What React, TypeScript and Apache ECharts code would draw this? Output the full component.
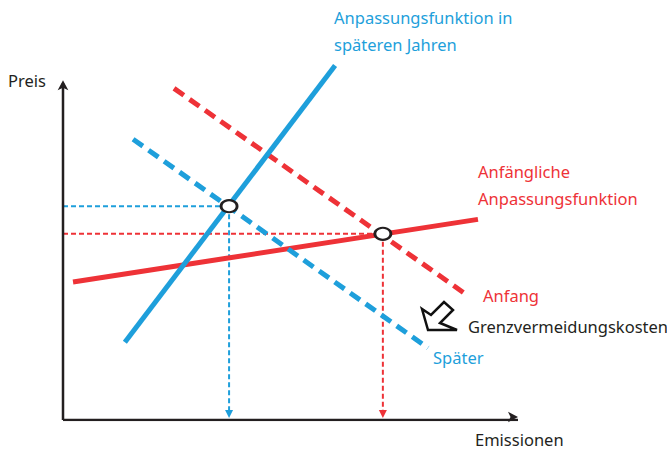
import React, { useEffect, useRef } from "react";
import * as echarts from "echarts";

// Conceptual diagram data (x: Emissionen 0..100, y: Preis 0..100)
const blueSolid = [[13.6, 23.1], [59.8, 105.3]]; // Anpassungsfunktion in späteren Jahren
const redSolid = [[2.2, 41.0], [91.2, 59.6]]; // Anfängliche Anpassungsfunktion
const redDashed = [[24.4, 98.5], [88.8, 37.1]]; // Grenzvermeidungskosten Anfang
const blueDashed = [[15.4, 83.4], [80.2, 21.4]]; // Grenzvermeidungskosten Später
const eqLater = [36.5, 63.5];
const eqInitial = [70.3, 55.3];
const xAxisLine = [[0, 0], [100, 0]];
const yAxisLine = [[0, 0], [0, 100]];

const BLUE = "#1E9FDB";
const RED = "#EE3237";
const DARK = "#231F20";
const FONT = "'Noto Sans'";
const FS = "16.5px";

export default function App() {
  const ref = useRef<HTMLDivElement>(null);
  useEffect(() => {
    const chart = echarts.init(ref.current!, null, { renderer: "svg" });
    const guide = (color: string, pt: number[]) => [
      {
        type: "line",
        data: [[0, pt[1]], [pt[0], pt[1]]],
        showSymbol: false,
        symbol: "none",
        lineStyle: { color, width: 2, type: [5, 3] },
        z: 1,
      },
      {
        type: "line",
        data: [
          { value: [pt[0], pt[1]], symbol: "none" },
          { value: [pt[0], 1.8], symbol: "triangle", symbolSize: [8, 8], symbolRotate: 180 },
        ],
        showAllSymbol: true,
        itemStyle: { color },
        lineStyle: { color, width: 2, type: [5, 3] },
        z: 1,
      },
    ];
    chart.setOption({
      animation: false,
      grid: { left: 63, right: 149, top: 16, bottom: 30 },
      xAxis: { type: "value", min: 0, max: 100, show: false },
      yAxis: { type: "value", min: 0, max: 120, show: false },
      series: [
        ...guide(BLUE, eqLater),
        ...guide(RED, eqInitial),
        {
          type: "line",
          data: [
            { value: yAxisLine[0], symbol: "none" },
            { value: yAxisLine[1], symbol: "arrow", symbolSize: [8, 10], symbolOffset: [0, -3] },
          ],
          showAllSymbol: true,
          itemStyle: { color: DARK },
          lineStyle: { color: DARK, width: 2.5 },
          z: 2,
        },
        {
          type: "line",
          data: [
            { value: xAxisLine[0], symbol: "none" },
            { value: xAxisLine[1], symbol: "arrow", symbolSize: [8, 10], symbolRotate: -90, symbolOffset: [0, -3] },
          ],
          showAllSymbol: true,
          itemStyle: { color: DARK },
          lineStyle: { color: DARK, width: 2.5 },
          z: 2,
        },
        {
          type: "line",
          data: redSolid,
          symbol: "none",
          lineStyle: { color: RED, width: 5, cap: "butt" },
          z: 3,
        },
        {
          type: "line",
          data: blueDashed,
          symbol: "none",
          lineStyle: { color: BLUE, width: 5, type: [12, 7] },
          z: 3,
        },
        {
          type: "line",
          data: redDashed,
          symbol: "none",
          lineStyle: { color: RED, width: 5, type: [12, 7] },
          z: 3,
        },
        {
          type: "line",
          data: blueSolid,
          symbol: "none",
          lineStyle: { color: BLUE, width: 5 },
          z: 4,
        },
        {
          type: "scatter",
          data: [eqLater, eqInitial],
          symbol: "circle",
          symbolSize: [16, 12],
          itemStyle: { color: "#ffffff", borderColor: DARK, borderWidth: 2.5, opacity: 1 },
          z: 5,
        },
      ],
      graphic: [
        {
          type: "polygon",
          shape: {
            points: [
              [428, 330],
              [422, 309],
              [431, 315],
              [444, 302],
              [453, 310],
              [440, 323],
              [457, 330],
            ],
          },
          style: { fill: "#ffffff", stroke: "#111111", lineWidth: 2.5, lineJoin: "miter" },
          z: 10,
        },
        { type: "text", left: 8, top: 72, style: { text: "Preis", fill: DARK, font: `${FS} ${FONT}` } },
        {
          type: "text",
          left: 334,
          top: 4,
          style: { text: "Anpassungsfunktion in\nspäteren Jahren", fill: BLUE, font: `${FS} ${FONT}`, lineHeight: 27 },
        },
        {
          type: "text",
          left: 478,
          top: 158,
          style: { text: "Anfängliche\nAnpassungsfunktion", fill: RED, font: `${FS} ${FONT}`, lineHeight: 27 },
        },
        { type: "text", left: 483, top: 287, style: { text: "Anfang", fill: RED, font: `${FS} ${FONT}` } },
        { type: "text", left: 468, top: 318, style: { text: "Grenzvermeidungskosten", fill: DARK, font: `${FS} ${FONT}` } },
        { type: "text", left: 433, top: 349, style: { text: "Später", fill: BLUE, font: `${FS} ${FONT}` } },
        { type: "text", left: 475, top: 431, style: { text: "Emissionen", fill: DARK, font: `${FS} ${FONT}` } },
      ],
    });
    return () => chart.dispose();
  }, []);
  return (
    <div
      ref={ref}
      style={{ position: "fixed", left: 0, top: 0, width: 667, height: 450, background: "#fff" }}
    />
  );
}
